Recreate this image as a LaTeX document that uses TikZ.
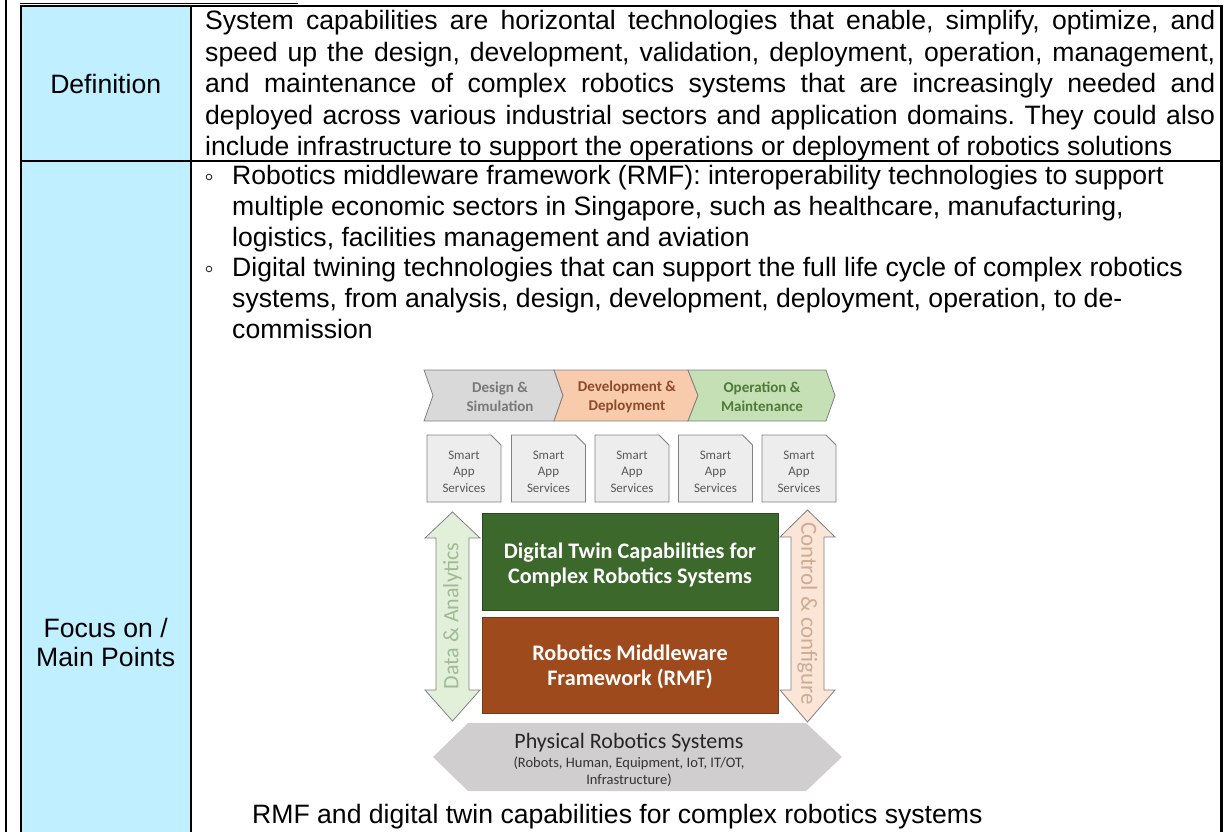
\documentclass[tikz,border=0pt]{standalone}
\usepackage{fontspec}
\setmainfont{Liberation Sans}
\newfontfamily\carlito{Carlito}
\definecolor{cellblue}{RGB}{192,240,255}
\definecolor{chgray}{RGB}{217,217,217}
\definecolor{chpeach}{RGB}{248,203,173}
\definecolor{chgreen}{RGB}{197,224,180}
\definecolor{edgegray}{RGB}{128,128,128}
\definecolor{smartfill}{RGB}{237,237,237}
\definecolor{dtgreen}{RGB}{60,104,44}
\definecolor{rmfbrown}{RGB}{158,74,28}
\definecolor{dataFill}{RGB}{226,240,217}
\definecolor{ctrlFill}{RGB}{251,229,214}
\definecolor{physFill}{RGB}{208,206,206}
\definecolor{txtgray}{RGB}{120,120,120}
\definecolor{txtbrown}{RGB}{140,74,43}
\definecolor{txtgreen}{RGB}{78,122,58}
\definecolor{datatxt}{RGB}{160,186,148}
\definecolor{ctrltxt}{RGB}{205,172,150}
\frenchspacing
\begin{document}
\begin{tikzpicture}[x=1pt,y=-1pt,
  tbl/.style={line width=2.2pt,draw=black},
  body/.style={inner sep=0pt,font=\fontsize{26.6}{31}\selectfont,text=black},
  chev/.style={draw=edgegray,line width=0.8pt},
  chevtxt/.style={inner sep=0pt,align=center,font=\carlito\bfseries\fontsize{15}{19}\selectfont},
  smart/.style={draw=edgegray,fill=smartfill,line width=0.8pt},
  smarttxt/.style={inner sep=0pt,align=center,text=black!65,font=\carlito\fontsize{13}{16.5}\selectfont},
  bigtxt/.style={inner sep=0pt,align=center,text=white,font=\carlito\bfseries\fontsize{22.2}{24.5}\selectfont},
  sidetxt/.style={inner sep=0pt,font=\carlito\fontsize{22}{24}\selectfont},
  bul/.style={line width=0.9pt,draw=black!80}]
\useasboundingbox (0,0) rectangle (1227,832);
% table
\fill[cellblue] (20.7,5.7) rectangle (190.7,832);
\draw[tbl] (6,0) -- (6,832);
\draw[tbl] (20.7,832) -- (20.7,5.7) -- (1221.5,5.7) -- (1221.5,832);
\draw[tbl] (190.7,5.7) -- (190.7,832);
\draw[tbl] (20.7,161) -- (1221.5,161);
\draw[line width=1.4pt] (20,3.4) -- (298,3.4);
% left labels
\node[body] (def) at (105.7,84) {Definition};
\node[body,align=center,font=\fontsize{26.6}{29}\selectfont] (focus) at (105.7,642) {Focus on /\\Main Points};
% definition text
\node[body,anchor=base west] (d1) at (205,30) {\makebox[1010pt][s]{System capabilities are horizontal technologies that enable, simplify, optimize, and}};
\node[body,anchor=base west] (d2) at (205,61.5) {\makebox[1010pt][s]{speed up the design, development, validation, deployment, operation, management,}};
\node[body,anchor=base west] (d3) at (205,93) {\makebox[1010pt][s]{and maintenance of complex robotics systems that are increasingly needed and}};
\node[body,anchor=base west] (d4) at (205,124.5) {\makebox[1010pt][s]{deployed across various industrial sectors and application domains. They could also}};
\node[body,anchor=base west] (d5) at (205,156) {include infrastructure to support the operations or deployment of robotics solutions};
% focus text
\draw[bul] (209,177) circle (2.8);
\draw[bul] (209,269) circle (2.8);
\node[body,anchor=base west] (f1) at (232,185) {Robotics middleware framework (RMF): interoperability technologies to support};
\node[body,anchor=base west] (f2) at (232,215.6) {multiple economic sectors in Singapore, such as healthcare, manufacturing,};
\node[body,anchor=base west] (f3) at (232,246.2) {logistics, facilities management and aviation};
\node[body,anchor=base west] (f4) at (232,276.8) {Digital twining technologies that can support the full life cycle of complex robotics};
\node[body,anchor=base west] (f5) at (232,307.4) {systems, from analysis, design, development, deployment, operation, to de-};
\node[body,anchor=base west] (f6) at (232,338) {commission};
% caption
\node[body,anchor=base west] (cap) at (252,823) {RMF and digital twin capabilities for complex robotics systems};
% chevrons
\draw[chev,fill=chgray] (424,370) -- (554,370) -- (563,395.5) -- (554,421) -- (424,421) -- (433,395.5) -- cycle;
\draw[chev,fill=chpeach] (554,370) -- (688,370) -- (698,395.5) -- (688,421) -- (554,421) -- (563,395.5) -- cycle;
\draw[chev,fill=chgreen] (688,370) -- (826,370) -- (835,395.5) -- (826,421) -- (688,421) -- (698,395.5) -- cycle;
\node[chevtxt,text=txtgray] (ch1) at (500,396.5) {Design \&\\Simulation};
\node[chevtxt,text=txtbrown] (ch2) at (627,396.5) {Development \&\\Deployment};
\node[chevtxt,text=txtgreen] (ch3) at (762,396.5) {Operation \&\\Maintenance};
% smart app services
\foreach \x/\n in {427/s1,511.5/s2,595/s3,678.5/s4,762/s5}{
  \draw[smart] (\x,435) -- (\x+64,435) -- (\x+74,445) -- (\x+74,502) -- (\x,502) -- cycle;
  \node[smarttxt] (\n) at (\x+37,471.5) {Smart\\App\\Services};
}
% digital twin and RMF
\fill[dtgreen] (482,513) rectangle (778,610);
\draw[dtgreen!70!black,line width=0.8pt] (482,513) rectangle (778,610);
\node[bigtxt] (dt) at (630,565) {Digital Twin Capabilities for\\Complex Robotics Systems};
\fill[rmfbrown] (482,617) rectangle (778,713);
\draw[rmfbrown!75!black,line width=0.8pt] (482,617) rectangle (778,713);
\node[bigtxt] (rmf) at (630,667) {Robotics Middleware\\Framework (RMF)};
% side arrows
\draw[chev,fill=dataFill] (452.5,512) -- (480,538) -- (469,538) -- (469,690) -- (480,690) -- (452.5,721) -- (425,690) -- (436,690) -- (436,538) -- (425,538) -- cycle;
\node[sidetxt,text=datatxt,rotate=90] (data) at (452.5,616) {Data \& Analytics};
\draw[chev,fill=ctrlFill] (807.5,510) -- (835,537) -- (824,537) -- (824,690) -- (835,690) -- (807.5,722) -- (780,690) -- (791,690) -- (791,537) -- (780,537) -- cycle;
\node[sidetxt,text=ctrltxt,rotate=-90,font=\carlito\fontsize{23}{24}\selectfont] (ctrl) at (807.5,613.5) {Control \& configure};
% physical robotics systems
\fill[physFill] (433,757) -- (468,723) -- (806,723) -- (842,757) -- (806,791) -- (468,791) -- cycle;
\node[sidetxt,text=black!85] (phys) at (629,743) {Physical Robotics Systems};
\node[inner sep=0pt,align=center,text=black!80,font=\carlito\fontsize{14.5}{17}\selectfont] (physsub) at (629,772) {(Robots, Human, Equipment, IoT, IT/OT,\\Infrastructure)};
\end{tikzpicture}
\end{document}
